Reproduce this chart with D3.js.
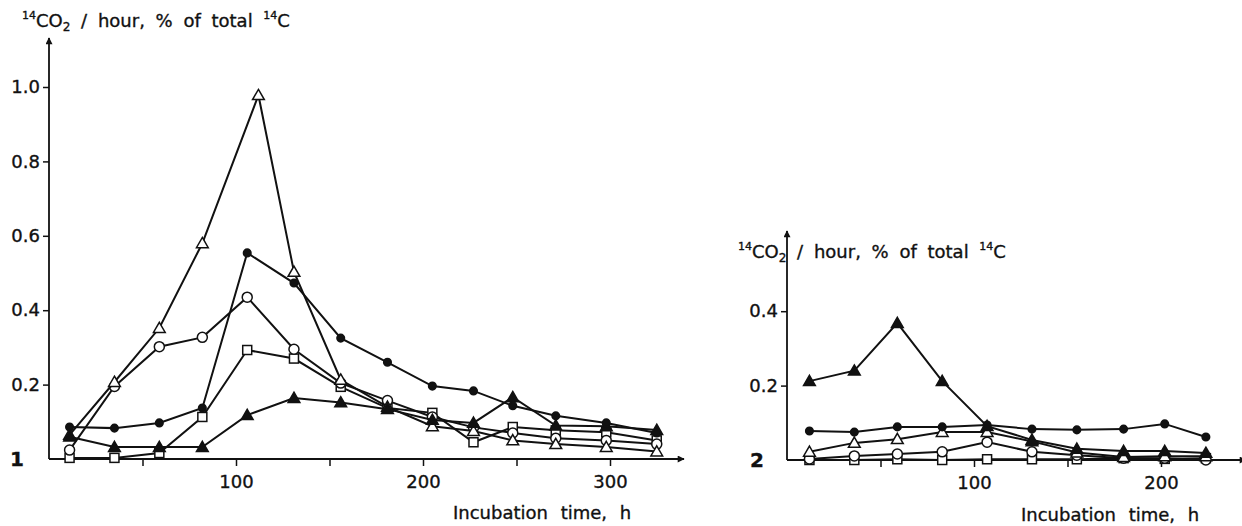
<!DOCTYPE html>
<html>
<head>
<meta charset="utf-8">
<script src="https://cdnjs.cloudflare.com/ajax/libs/d3/7.8.5/d3.min.js"></script>
<style>
  body { margin: 0; background: #fff; }
  svg text { font-family: "DejaVu Sans", sans-serif; fill: #111; stroke: #111; stroke-width: 0.35px; }
</style>
</head>
<body>
<svg id="chart" width="1242" height="526"></svg>
<script>
// ---- data ----
// panel 1
var leftTime    = [11, 35, 59, 82, 106, 131, 156, 181, 205, 227, 248, 271, 298, 325];
var leftTriTime = [11, 35, 59, 82, 112, 131, 156, 181, 205, 227, 248, 271, 298, 325];
var leftOpenTri      = [0.065, 0.207, 0.352, 0.58, 0.978, 0.503, 0.213, 0.14, 0.088, 0.075, 0.05, 0.04, 0.032, 0.02];
var leftOpenCircle   = [0.024, 0.195, 0.302, 0.327, 0.435, 0.295, 0.204, 0.157, 0.113, 0.085, 0.07, 0.056, 0.05, 0.04];
var leftSquare       = [0.003, 0.003, 0.016, 0.113, 0.293, 0.27, 0.194, 0.137, 0.124, 0.045, 0.086, 0.077, 0.072, 0.05];
var leftFilledCircle = [0.086, 0.083, 0.097, 0.137, 0.554, 0.473, 0.325, 0.26, 0.196, 0.183, 0.143, 0.116, 0.097, 0.07];
var leftFilledTri    = [0.06, 0.032, 0.032, 0.032, 0.118, 0.164, 0.152, 0.134, 0.105, 0.097, 0.166, 0.09, 0.088, 0.078];

// panel 2
var rightTime = [12, 36, 59, 83, 107, 131, 155, 180, 202, 224];
var rightFilledTri    = [0.212, 0.24, 0.368, 0.212, 0.091, 0.054, 0.03, 0.024, 0.024, 0.019];
var rightFilledCircle = [0.078, 0.075, 0.089, 0.089, 0.094, 0.083, 0.081, 0.083, 0.097, 0.062];
var rightOpenTri      = [0.022, 0.046, 0.056, 0.075, 0.075, 0.05, 0.02, 0.008, 0.01, 0.01];
var rightOpenCircle   = [0.003, 0.011, 0.016, 0.022, 0.048, 0.022, 0.013, 0.005, 0.005, 0.0];
var rightSquare       = [0.0, 0.0, 0.002, 0.0, 0.002, 0.002, 0.002, 0.005, 0.003, 0.005];

var leftXTicks  = [50, 100, 150, 200, 250, 300];
var rightXTicks = [50, 100, 150, 200];
var xTickLabels = [100, 200, 300];
var leftYTicks  = [0.2, 0.4, 0.6, 0.8, 1.0];
var rightYTicks = [0.2, 0.4];

var svg = d3.select("#chart");

svg.append("defs").append("marker")
    .attr("id", "arrow")
    .attr("viewBox", "0 0 10 10")
    .attr("refX", 9).attr("refY", 5)
    .attr("markerWidth", 15).attr("markerHeight", 7)
    .attr("markerUnits", "userSpaceOnUse")
    .attr("orient", "auto")
  .append("path").attr("d", "M0,0L10,5L0,10z").attr("fill", "#111");

function yTitle(x, y){
    var t = svg.append("text").attr("x", x).attr("y", y).style("font-size", "18px").style("word-spacing", "5px");
    t.append("tspan").text("14").style("font-size", "11px").attr("dy", -8);
    t.append("tspan").text("CO").attr("dy", 8);
    t.append("tspan").text("2").style("font-size", "12px").attr("dy", 4);
    t.append("tspan").text(" / hour,  % of  total ").attr("dy", -4);
    t.append("tspan").text("14").style("font-size", "11px").attr("dy", -8);
    t.append("tspan").text("C").attr("dy", 8);
}

function drawPanel(opt){
    var x = d3.scaleLinear().domain([0, 100]).range([opt.x0, opt.x100]);
    var y = d3.scaleLinear().domain([0, 1]).range([opt.y0, opt.y1]);

    // axes
    var xAxis = d3.axisBottom(x).tickValues(opt.xTicks).tickSize(7).tickSizeOuter(0)
        .tickFormat(function(d){ return xTickLabels.indexOf(d) >= 0 ? d : ""; });
    var gx = svg.append("g").attr("transform", "translate(0," + opt.y0 + ")").call(xAxis);
    gx.select(".domain").remove();
    gx.selectAll("line").attr("stroke", "#111").attr("stroke-width", 1.5);
    gx.selectAll("text").style("font-size", "18px").style("font-family", "DejaVu Sans").attr("dy", "1.05em").attr("fill", "#111");

    var yAxis = d3.axisLeft(y).tickValues(opt.yTicks).tickSize(6).tickSizeOuter(0).tickFormat(d3.format(".1f"));
    var gy = svg.append("g").attr("transform", "translate(" + opt.x0 + ",0)").call(yAxis);
    gy.select(".domain").remove();
    gy.selectAll("line").attr("stroke", "#111").attr("stroke-width", 1.5);
    gy.selectAll("text").style("font-size", "18px").style("font-family", "DejaVu Sans").attr("dx", "0px").attr("fill", "#111");

    svg.append("line").attr("x1", opt.x0).attr("y1", opt.y0).attr("x2", opt.xEnd).attr("y2", opt.y0)
        .attr("stroke", "#111").attr("stroke-width", 1.8).attr("marker-end", "url(#arrow)");
    svg.append("line").attr("x1", opt.x0).attr("y1", opt.y0).attr("x2", opt.x0).attr("y2", opt.yTop)
        .attr("stroke", "#111").attr("stroke-width", 1.8).attr("marker-end", "url(#arrow)");

    yTitle(opt.titleX, opt.titleY);
    svg.append("text").attr("x", opt.xlabX).attr("y", opt.xlabY).style("font-size", "18px")
        .style("word-spacing", "7px").text("Incubation time, h");
    svg.append("text").attr("x", opt.numX).attr("y", opt.y0 + 7).style("font-size", "20px")
        .style("font-weight", "bold").text(opt.num);

    var line = d3.line().x(function(d){ return x(d[0]); }).y(function(d){ return y(d[1]); });

    opt.series.forEach(function(s){
        var pts = d3.zip(s.t, s.v);
        svg.append("path").datum(pts).attr("d", line)
            .attr("fill", "none").attr("stroke", "#111").attr("stroke-width", 2);
        var g = svg.append("g");
        pts.forEach(function(p){
            var cx = x(p[0]), cy = y(p[1]);
            var fill = s.filled ? "#111" : "#fff";
            if (s.shape == "circle") {
                g.append("circle").attr("cx", cx).attr("cy", cy).attr("r", s.filled ? 3.8 : 5)
                    .attr("fill", fill).attr("stroke", "#111").attr("stroke-width", 1.5);
            } else if (s.shape == "square") {
                g.append("rect").attr("x", cx - 4.5).attr("y", cy - 4.5).attr("width", 9).attr("height", 9)
                    .attr("fill", fill).attr("stroke", "#111").attr("stroke-width", 1.5);
            } else {
                g.append("path").attr("d", d3.symbol().type(d3.symbolTriangle).size(60)())
                    .attr("transform", "translate(" + cx + "," + (cy + 1) + ")")
                    .attr("fill", fill).attr("stroke", "#111").attr("stroke-width", 1.5);
            }
        });
    });
}

drawPanel({
    x0: 49, x100: 236, y0: 459, y1: 87, xEnd: 684, yTop: 38,
    xTicks: leftXTicks, yTicks: leftYTicks,
    titleX: 22, titleY: 27, xlabX: 453, xlabY: 519, numX: 10, num: "1",
    series: [
        {t: leftTime, v: leftSquare, shape: "square", filled: false},
        {t: leftTime, v: leftOpenCircle, shape: "circle", filled: false},
        {t: leftTriTime, v: leftOpenTri, shape: "triangle", filled: false},
        {t: leftTime, v: leftFilledTri, shape: "triangle", filled: true},
        {t: leftTime, v: leftFilledCircle, shape: "circle", filled: true}
    ]
});

drawPanel({
    x0: 787, x100: 974, y0: 460, y1: 88, xEnd: 1246, yTop: 231,
    xTicks: rightXTicks, yTicks: rightYTicks,
    titleX: 738, titleY: 258, xlabX: 1021, xlabY: 521, numX: 750, num: "2",
    series: [
        {t: rightTime, v: rightSquare, shape: "square", filled: false},
        {t: rightTime, v: rightOpenCircle, shape: "circle", filled: false},
        {t: rightTime, v: rightOpenTri, shape: "triangle", filled: false},
        {t: rightTime, v: rightFilledTri, shape: "triangle", filled: true},
        {t: rightTime, v: rightFilledCircle, shape: "circle", filled: true}
    ]
});
</script>
</body>
</html>
